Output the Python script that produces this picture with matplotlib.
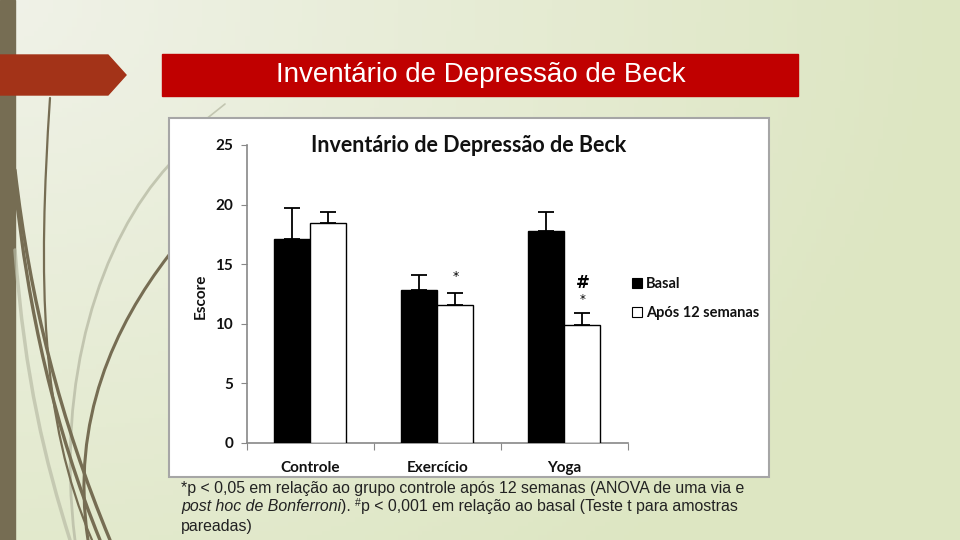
import numpy as np
import matplotlib
matplotlib.use("Agg")
import matplotlib.pyplot as plt
from matplotlib.patches import Rectangle, Polygon, PathPatch
from matplotlib.path import Path

# ---- data ----
categories = ["Controle", "Exercício", "Yoga"]
basal = [17.1, 12.85, 17.8]
basal_err = [2.6, 1.25, 1.6]
apos = [18.45, 11.6, 9.9]
apos_err = [0.97, 0.95, 1.0]
series_labels = ["Basal", "Após 12 semanas"]
yticks = [0, 5, 10, 15, 20, 25]
slide_title = "Inventário de Depressão de Beck"
chart_title = "Inventário de Depressão de Beck"
y_label = "Escore"

W, H = 960, 540
fig = plt.figure(figsize=(9.6, 5.4), dpi=100)

# background axes in pixel coordinates
bg = fig.add_axes([0, 0, 1, 1])
bg.set_xlim(0, W)
bg.set_ylim(H, 0)
bg.axis("off")

xx, yy = np.meshgrid(np.linspace(0, W, 200), np.linspace(0, H, 120))
t = np.clip(np.sqrt((xx / 950.0) ** 2 + (yy / 750.0) ** 2), 0, 1)
c0 = np.array([0xf0, 0xf2, 0xe8]) / 255.0
c1 = np.array([0xdd, 0xe6, 0xc2]) / 255.0
img = c0[None, None, :] * (1 - t[..., None]) + c1[None, None, :] * t[..., None]
bg.imshow(img, extent=[0, W, H, 0], aspect="auto", zorder=0)

# left brown bar
bg.add_patch(Rectangle((0, 0), 15, H, color="#766d53", zorder=1))

# decorative curves
def curve(pts, color, lw, alpha=1.0):
    path = Path(pts, [Path.MOVETO, Path.CURVE4, Path.CURVE4, Path.CURVE4])
    bg.add_patch(PathPatch(path, facecolor="none", edgecolor=color, lw=lw,
                           alpha=alpha, zorder=2, capstyle="round"))

light = "#b9bca6"
curve([(169, 165), (100, 240), (55, 380), (75, 540)], light, 2.0, 0.8)
curve([(15, 250), (25, 380), (45, 460), (70, 540)], light, 2.5, 0.7)
curve([(225, 104), (215, 112), (210, 116), (205, 120)], light, 1.2, 0.8)
curve([(50, 98), (38, 280), (40, 420), (92, 540)], "#766d53", 1.6)
curve([(15, 170), (30, 300), (60, 420), (110, 540)], "#766d53", 2.4)
curve([(15, 185), (28, 310), (55, 430), (100, 540)], "#766d53", 2.4)
curve([(169, 255), (115, 325), (70, 420), (88, 540)], "#766d53", 2.2)

# red arrow
bg.add_patch(Polygon([(0, 55), (108, 55), (126, 75), (108, 95), (0, 95)],
                     closed=True, color="#a33318", zorder=3))
# title banner
bg.add_patch(Rectangle((162, 54), 636, 42, color="#c00000", zorder=3))
bg.text(481, 75, slide_title, color="white", fontsize=20,
        family="Liberation Sans", ha="center", va="center", zorder=4)

# chart image frame
bg.add_patch(Rectangle((169, 118), 600, 359, facecolor="white",
                       edgecolor="#a6a6a6", lw=1.5, zorder=3))

# chart title
bg.text(469, 146, chart_title, fontsize=15.5, fontweight="bold", family="Lato",
        ha="center", va="center", color="#111111", zorder=5)
# y label
bg.text(201, 296, y_label, fontsize=11, fontweight="bold", family="Lato",
        rotation=90, ha="center", va="center", color="#111111", zorder=5)

# legend
bg.add_patch(Rectangle((632, 278), 10, 10, facecolor="black", edgecolor="black",
                       lw=0.8, zorder=5))
bg.add_patch(Rectangle((632, 307), 10, 10, facecolor="white", edgecolor="black",
                       lw=0.8, zorder=5))
bg.text(646, 284, series_labels[0], fontsize=10.5, fontweight="bold", family="Lato",
        ha="left", va="center", color="#111111", zorder=5)
bg.text(646, 313, series_labels[1], fontsize=10.5, fontweight="bold", family="Lato",
        ha="left", va="center", color="#111111", zorder=5)

# ---- bar chart ----
ax = fig.add_axes([247 / W, 1 - 443 / H, (628 - 247) / W, 298 / H])
ax.set_zorder(6)
ax.patch.set_alpha(0)
x = np.arange(len(categories))
bw = 36 / 127.0
ax.bar(x - bw / 2, basal, bw, color="black", edgecolor="black", lw=1, zorder=3)
ax.bar(x + bw / 2, apos, bw, color="white", edgecolor="black", lw=1, zorder=3)
ax.errorbar(x - bw / 2, basal, yerr=[np.zeros(3), basal_err], fmt="none",
            ecolor="black", elinewidth=1.3, capsize=6, capthick=1.3, zorder=2)
ax.errorbar(x + bw / 2, apos, yerr=[np.zeros(3), apos_err], fmt="none",
            ecolor="black", elinewidth=1.3, capsize=6, capthick=1.3, zorder=4)

ax.set_xlim(-0.5, 2.5)
ax.set_ylim(0, 25)
ax.set_yticks(yticks)
ax.set_yticklabels([str(v) for v in yticks], fontsize=11, family="Lato",
                   fontweight="bold", color="#111111")
ax.set_xticks([-0.5, 0.5, 1.5, 2.5])
ax.set_xticklabels([])
ax.set_xticks(x, minor=True)
ax.set_xticklabels(categories, minor=True, fontsize=11, family="Lato",
                   fontweight="bold", color="#111111")
ax.tick_params(axis="x", which="major", length=5, direction="out", color="#888888")
ax.tick_params(axis="x", which="minor", length=0, pad=13)
ax.tick_params(axis="y", length=4, direction="out", color="#888888", pad=6)
for s in ["top", "right"]:
    ax.spines[s].set_visible(False)
for s in ["left", "bottom"]:
    ax.spines[s].set_color("#888888")
    ax.spines[s].set_linewidth(1.2)

# significance markers
ax.text(1 + bw / 2, 13.95, "*", ha="center", va="center", fontsize=9, color="black")
ax.text(2 + bw / 2, 13.45, "#", ha="center", va="center", fontsize=12,
        fontweight="bold", color="black")
ax.text(2 + bw / 2, 12.0, "*", ha="center", va="center", fontsize=8.5, color="black")

# ---- footnote ----
fs = 11.4
fcol = "#222222"
fam = "Liberation Sans"
bg.text(181, 488, "*p < 0,05 em relação ao grupo controle após 12 semanas (ANOVA de uma via e",
        fontsize=fs, family=fam, color=fcol, ha="left", va="center", zorder=5)
bg.text(181, 527, "pareadas)", fontsize=fs, family=fam, color=fcol,
        ha="left", va="center", zorder=5)

fig.canvas.draw()
r = fig.canvas.get_renderer()
inv = bg.transData.inverted()

def place(xpos, ypos, s, **kw):
    tt = bg.text(xpos, ypos, s, ha="left", va="center", zorder=5, **kw)
    bb = tt.get_window_extent(renderer=r)
    x1 = inv.transform((bb.x1, bb.y0))[0]
    return x1

xp = place(181, 507, "post hoc de Bonferroni", fontsize=fs, family=fam,
           color=fcol, style="italic")
xp = place(xp, 507, "). ", fontsize=fs, family=fam, color=fcol)
xp = place(xp, 503, "#", fontsize=7.5, family=fam, color=fcol)
xp = place(xp, 507, "p < 0,001 em relação ao basal (Teste t para amostras",
           fontsize=fs, family=fam, color=fcol)

fig.savefig("out.png", dpi=100)
